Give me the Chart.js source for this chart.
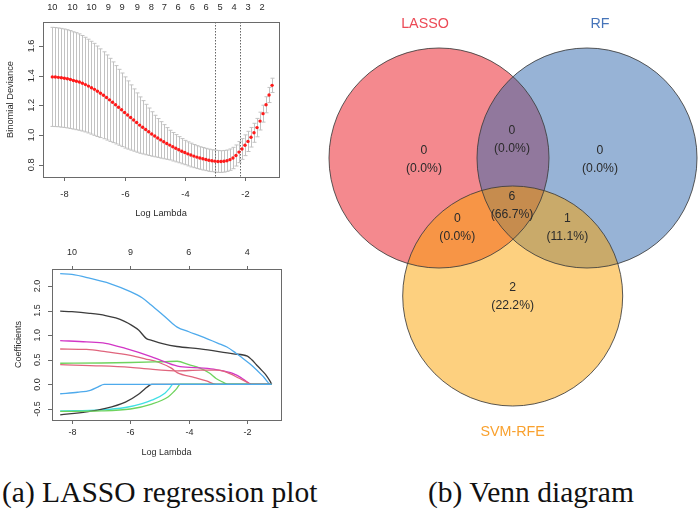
<!DOCTYPE html>
<html>
<head>
<meta charset="utf-8">
<script src="https://cdn.jsdelivr.net/npm/chart.js@4.4.1/dist/chart.umd.min.js"></script>
<style>
  body { margin: 0; background: #fff; width: 699px; height: 512px; position: relative; overflow: hidden; }
  canvas { position: absolute; }
  .cap { position: absolute; font-family: "Liberation Serif", "Times New Roman", serif; font-size: 29.5px; line-height: 29.5px; color: #111; white-space: nowrap; }
</style>
</head>
<body>
<canvas id="cvPlot" width="300" height="222" style="left:0;top:0"></canvas>
<canvas id="coefPlot" width="300" height="225" style="left:0;top:240px"></canvas>
<canvas id="vennPlot" width="399" height="445" style="left:300px;top:0"></canvas>
<div class="cap" style="left:2px;top:478px">(a) LASSO regression plot</div>
<div class="cap" style="left:428px;top:478px">(b) Venn diagram</div>
<script>
// ---- cross validation curve (top left)
const logLambda = [-8.4, -8.3, -8.2, -8.1, -8.0, -7.9, -7.8, -7.7, -7.6, -7.5, -7.4, -7.3, -7.2, -7.1, -7.0,
  -6.9, -6.8, -6.7, -6.6, -6.5, -6.4, -6.3, -6.2, -6.1, -6.0, -5.9, -5.8, -5.7, -5.6, -5.5, -5.4, -5.3, -5.2, -5.1, -5.0,
  -4.9, -4.8, -4.7, -4.6, -4.5, -4.4, -4.3, -4.2, -4.1, -4.0, -3.9, -3.8, -3.7, -3.6, -3.5, -3.4, -3.3, -3.2, -3.1, -3.0,
  -2.9, -2.8, -2.7, -2.6, -2.5, -2.4, -2.3, -2.2, -2.1, -2.0, -1.9, -1.8, -1.7, -1.6, -1.5, -1.4, -1.3, -1.2, -1.1]
const devMean = [1.392, 1.391, 1.389, 1.386, 1.383, 1.379, 1.374, 1.368, 1.363, 1.357, 1.349, 1.340, 1.330, 1.319, 1.308,
  1.295, 1.282, 1.268, 1.253, 1.237, 1.221, 1.204, 1.187, 1.170, 1.152, 1.135, 1.118, 1.101, 1.084, 1.067, 1.052, 1.037, 1.022, 1.007, 0.993,
  0.980, 0.967, 0.955, 0.943, 0.932, 0.921, 0.911, 0.901, 0.891, 0.882, 0.873, 0.865, 0.858, 0.851, 0.845, 0.840, 0.835, 0.830, 0.827, 0.824,
  0.822, 0.821, 0.823, 0.827, 0.834, 0.845, 0.862, 0.885, 0.906, 0.931, 0.957, 0.985, 1.015, 1.050, 1.094, 1.144, 1.204, 1.270, 1.335]
const devSE = [0.334, 0.334, 0.333, 0.333, 0.332, 0.331, 0.330, 0.328, 0.327, 0.325, 0.322, 0.319, 0.316, 0.313, 0.310,
  0.305, 0.299, 0.293, 0.287, 0.280, 0.272, 0.264, 0.256, 0.248, 0.240, 0.230, 0.220, 0.210, 0.200, 0.190, 0.180, 0.170, 0.160, 0.150, 0.140,
  0.131, 0.123, 0.115, 0.107, 0.100, 0.096, 0.092, 0.088, 0.085, 0.082, 0.081, 0.080, 0.078, 0.077, 0.076, 0.076, 0.075, 0.075, 0.074, 0.074,
  0.074, 0.073, 0.073, 0.072, 0.072, 0.072, 0.071, 0.071, 0.070, 0.070, 0.068, 0.066, 0.064, 0.062, 0.060, 0.057, 0.054, 0.051, 0.048]
const lambdaMin = -2.99
const lambda1se = -2.16
const cvCountAt = [-8.40, -7.73, -7.10, -6.54, -6.08, -5.58, -5.11, -4.68, -4.22, -3.75, -3.29, -2.83, -2.36, -1.90, -1.43]
const cvCounts = [10, 10, 10, 9, 9, 9, 8, 7, 6, 6, 6, 5, 4, 3, 2]
const cvYTicks = [0.8, 1.0, 1.2, 1.4, 1.6]
const xTicks = [-8, -6, -4, -2]

// ---- coefficient paths (bottom left), [logLambda, coef]
const coef1 = [[-8.4, 1.49], [-8.0, 1.478], [-7.4, 1.445], [-6.85, 1.40], [-6.5, 1.35], [-6.2, 1.28], [-5.95, 1.20], [-5.72, 1.105],
  [-5.45, 0.93], [-5.27, 0.895], [-4.9, 0.83], [-4.41, 0.77], [-3.62, 0.72], [-2.48, 0.62], [-2.0, 0.575], [-1.85, 0.50],
  [-1.69, 0.40], [-1.5, 0.28], [-1.35, 0.18], [-1.22, 0.06], [-1.17, 0]]
const coef2 = [[-8.4, 0.72], [-7.5, 0.71], [-6.85, 0.665], [-6.0, 0.59], [-5.5, 0.52], [-5.0, 0.44], [-4.6, 0.33], [-4.4, 0.24],
  [-3.8, 0.14], [-3.4, 0.07], [-3.07, 0], [-1.17, 0]]
const coef3 = [[-8.4, 0.43], [-7.0, 0.435], [-6.0, 0.445], [-5.0, 0.46], [-4.4, 0.47], [-4.0, 0.40], [-3.62, 0.33], [-3.3, 0.23],
  [-3.07, 0.12], [-2.85, 0.05], [-2.67, 0], [-1.17, 0]]
const coef4 = [[-8.4, 2.25], [-8.0, 2.235], [-7.4, 2.16], [-6.7, 2.05], [-6.0, 1.885], [-5.6, 1.76], [-5.3, 1.62], [-4.75, 1.34],
  [-4.4, 1.165], [-4.0, 1.07], [-3.6, 0.98], [-3.0, 0.835], [-2.7, 0.76], [-2.4, 0.64], [-2.2, 0.55], [-1.8, 0.36],
  [-1.45, 0.155], [-1.2, 0], [-1.17, 0]]
const coef5 = [[-8.4, -0.54], [-7.0, -0.52], [-6.17, -0.47], [-5.6, -0.39], [-5.27, -0.32], [-4.82, -0.18], [-4.65, -0.07],
  [-4.55, 0], [-1.17, 0]]
const coef6 = [[-8.4, 0.89], [-7.5, 0.865], [-6.85, 0.835], [-6.17, 0.73], [-5.27, 0.56], [-4.5, 0.39], [-4.3, 0.36], [-3.5, 0.33],
  [-3.07, 0.30], [-2.48, 0.22], [-2.2, 0.13], [-2.03, 0.06], [-1.86, 0], [-1.17, 0]]
const coef7 = [[-8.4, -0.62], [-7.5, -0.56], [-6.85, -0.49], [-6.17, -0.36], [-5.72, -0.20], [-5.5, -0.09], [-5.35, -0.02],
  [-5.27, 0], [-1.17, 0]]
const coef8 = [[-8.4, 0.40], [-7.0, 0.375], [-6.0, 0.345], [-5.3, 0.31], [-4.8, 0.285], [-4.4, 0.275], [-3.6, 0.29], [-3.0, 0.29],
  [-2.6, 0.22], [-2.3, 0.13], [-2.0, 0.04], [-1.9, 0], [-1.17, 0]]
const coef9 = [[-8.4, -0.55], [-7.0, -0.54], [-6.0, -0.50], [-5.27, -0.40], [-4.7, -0.25], [-4.5, -0.14], [-4.41, -0.08],
  [-4.3, 0], [-1.17, 0]]
const coef10 = [[-8.4, -0.19], [-7.8, -0.16], [-7.37, -0.12], [-7.1, -0.05], [-6.9, 0], [-1.17, 0]]
const coefCountAt = [-8, -6, -4, -2]
const coefCounts = [10, 9, 6, 4]
const coefYTicks = [-0.5, 0, 0.5, 1.0, 1.5, 2.0]

// ---- venn diagram (right)
const vennSets = ['LASSO', 'RF', 'SVM-RFE']
const vennRegions = ['LASSO', 'LASSO&RF', 'RF', 'all', 'LASSO&SVM-RFE', 'RF&SVM-RFE', 'SVM-RFE']
const vennCounts = [0, 0, 0, 6, 0, 1, 2]

const rPalette = ['#3c3c3c', '#e0657d', '#6fd35e', '#4eaaec', '#3fdfe4', '#d236c6']
const textColor = '#2b2b2b'
const sans = '"Liberation Sans", Arial, sans-serif'

// R style box, ticks and labels drawn off the chart's own scales
function rAxes(o) {
  return {
    id: 'rAxes',
    afterDraw(chart) {
      const { ctx, chartArea: a, scales: { x, y } } = chart
      ctx.save()
      ctx.strokeStyle = '#6a6a6a'
      ctx.lineWidth = 1
      ctx.strokeRect(Math.round(a.left) + 0.5, Math.round(a.top) + 0.5, Math.round(a.right - a.left), Math.round(a.bottom - a.top))
      ctx.fillStyle = textColor
      ctx.font = o.font
      ctx.textAlign = 'center'
      ctx.textBaseline = 'middle'
      ctx.beginPath()
      xTicks.forEach(v => {
        const px = Math.round(x.getPixelForValue(v)) + 0.5
        ctx.moveTo(px, a.bottom)
        ctx.lineTo(px, a.bottom + 4)
        ctx.fillText(String(v), px, a.bottom + o.xLab)
      })
      o.yTicks.forEach(v => {
        const py = Math.round(y.getPixelForValue(v)) + 0.5
        ctx.moveTo(a.left, py)
        ctx.lineTo(a.left - 4, py)
      })
      if (o.topTicks) {
        o.countAt.forEach(v => {
          const px = Math.round(x.getPixelForValue(v)) + 0.5
          ctx.moveTo(px, a.top)
          ctx.lineTo(px, a.top - 3)
        })
      }
      ctx.stroke()
      o.countAt.forEach((v, i) => ctx.fillText(String(o.counts[i]), x.getPixelForValue(v), a.top - o.topLab))
      ctx.fillText('Log Lambda', (a.left + a.right) / 2, a.bottom + o.titleGap)
      o.yTicks.forEach(v => {
        ctx.save()
        ctx.translate(a.left - o.yLab, y.getPixelForValue(v))
        ctx.rotate(-Math.PI / 2)
        ctx.fillText(v.toFixed(1), 0, 0)
        ctx.restore()
      })
      ctx.save()
      ctx.translate(a.left - o.yTitle, (a.top + a.bottom) / 2)
      ctx.rotate(-Math.PI / 2)
      ctx.fillText(o.yTitleText, 0, 0)
      ctx.restore()
      ctx.restore()
    }
  }
}

const errorBars = {
  id: 'errorBars',
  beforeDatasetsDraw(chart) {
    const { ctx, chartArea: a, scales: { x, y } } = chart
    ctx.save()
    ctx.strokeStyle = '#c2c2c2'
    ctx.lineWidth = 1
    ctx.beginPath()
    logLambda.forEach((l, i) => {
      const px = Math.round(x.getPixelForValue(l)) + 0.5
      const top = y.getPixelForValue(devMean[i] + devSE[i])
      const bot = y.getPixelForValue(devMean[i] - devSE[i])
      ctx.moveTo(px, top); ctx.lineTo(px, bot)
      ctx.moveTo(px - 2, top); ctx.lineTo(px + 2, top)
      ctx.moveTo(px - 2, bot); ctx.lineTo(px + 2, bot)
    })
    ctx.stroke()
    ctx.strokeStyle = '#666'
    ctx.setLineDash([1.5, 1.5])
    ctx.beginPath()
    ;[lambdaMin, lambda1se].forEach(l => {
      const px = Math.round(x.getPixelForValue(l)) + 0.5
      ctx.moveTo(px, a.top); ctx.lineTo(px, a.bottom)
    })
    ctx.stroke()
    ctx.restore()
  }
}

new Chart(document.getElementById('cvPlot'), {
  type: 'scatter',
  data: {
    datasets: [{
      data: logLambda.map((l, i) => ({ x: l, y: devMean[i] })),
      pointRadius: 1.7,
      pointBackgroundColor: '#ff1a1a',
      pointBorderWidth: 0
    }]
  },
  options: {
    responsive: false,
    animation: false,
    devicePixelRatio: 1,
    events: [],
    layout: { autoPadding: false, padding: { left: 43, top: 22, right: 21, bottom: 45 } },
    plugins: { legend: { display: false }, tooltip: { enabled: false } },
    scales: {
      x: { type: 'linear', display: false, min: -8.71, max: -0.87 },
      y: { type: 'linear', display: false, min: 0.717, max: 1.762 }
    }
  },
  plugins: [errorBars, rAxes({
    font: '9.3px ' + sans, yTicks: cvYTicks, countAt: cvCountAt, counts: cvCounts, topTicks: false,
    xLab: 17, titleGap: 36, topLab: 15, yLab: 12, yTitle: 33, yTitleText: 'Binomial Deviance'
  })]
})

const coefPaths = [coef1, coef2, coef3, coef4, coef5, coef6, coef7, coef8, coef9, coef10]
new Chart(document.getElementById('coefPlot'), {
  type: 'line',
  data: {
    datasets: coefPaths.map((p, i) => ({
      data: p.map(([x, y]) => ({ x, y })),
      borderColor: rPalette[i % 6],
      borderWidth: 1.3,
      pointRadius: 0,
      cubicInterpolationMode: 'monotone',
      order: coefPaths.length - i
    }))
  },
  options: {
    responsive: false,
    animation: false,
    devicePixelRatio: 1,
    events: [],
    layout: { autoPadding: false, padding: { left: 52, top: 29, right: 19, bottom: 45 } },
    plugins: { legend: { display: false }, tooltip: { enabled: false } },
    scales: {
      x: { type: 'linear', display: false, min: -8.68, max: -0.85 },
      y: { type: 'linear', display: false, min: -0.724, max: 2.346 }
    }
  },
  plugins: [rAxes({
    font: '9px ' + sans, yTicks: coefYTicks, countAt: coefCountAt, counts: coefCounts, topTicks: true,
    xLab: 13, titleGap: 33, topLab: 16, yLab: 14, yTitle: 33, yTitleText: 'Coefficients'
  })]
})

// venn layout in chart units (10 px per unit, the chart area is the whole canvas)
const vennXMax = 39.9
const vennYMax = 44.5
const vennRadius = 11.0
const vennCenters = [{ x: 13.9, y: 15.8 }, { x: 28.7, y: 15.8 }, { x: 21.27, y: 29.6 }]
const vennFill = ['rgba(233,20,30,0.5)', 'rgba(47,103,173,0.5)', 'rgba(251,161,0,0.5)']
const vennNameColor = ['#ec4a56', '#4674b9', '#f9a12e']
const vennNameSpot = [[12.5, 2.4], [30.0, 2.4], [21.27, 43.17]]
const regionSpot = [[12.4, 15.97], [21.2, 13.97], [30.0, 15.97], [21.2, 20.55], [15.73, 22.8], [26.73, 22.8], [21.27, 29.63]]

const vennText = {
  id: 'vennText',
  afterDatasetsDraw(chart) {
    const { ctx, scales: { x, y } } = chart
    const meta = chart.getDatasetMeta(0)
    const rPx = x.getPixelForValue(vennRadius) - x.getPixelForValue(0)
    ctx.save()
    ctx.strokeStyle = 'rgba(60,60,60,0.85)'
    ctx.lineWidth = 1
    meta.data.forEach(el => {
      ctx.beginPath()
      ctx.arc(el.x, el.y, rPx, 0, Math.PI * 2)
      ctx.stroke()
    })
    ctx.textAlign = 'center'
    ctx.textBaseline = 'middle'
    ctx.font = '14.3px ' + sans
    vennSets.forEach((s, i) => {
      ctx.fillStyle = vennNameColor[i]
      ctx.fillText(s, x.getPixelForValue(vennNameSpot[i][0]), y.getPixelForValue(vennNameSpot[i][1]))
    })
    const total = vennCounts.reduce((s, v) => s + v, 0)
    ctx.font = '12.2px ' + sans
    ctx.fillStyle = textColor
    vennCounts.forEach((n, i) => {
      const px = x.getPixelForValue(regionSpot[i][0])
      const py = y.getPixelForValue(regionSpot[i][1])
      ctx.fillText(String(n), px, py - 9)
      ctx.fillText('(' + (100 * n / total).toFixed(1) + '%)', px, py + 9)
    })
    ctx.restore()
  }
}

new Chart(document.getElementById('vennPlot'), {
  type: 'bubble',
  data: {
    labels: vennSets,
    datasets: [{
      data: vennCenters,
      backgroundColor: vennFill,
      borderWidth: 0,
      clip: false,
      // set radius in axis units, turned into pixels from the chart width
      radius: ctx => ctx.chart.width * vennRadius / vennXMax
    }]
  },
  options: {
    responsive: false,
    animation: false,
    devicePixelRatio: 1,
    events: [],
    layout: { autoPadding: false, padding: 0 },
    plugins: { legend: { display: false }, tooltip: { enabled: false } },
    scales: {
      x: { type: 'linear', display: false, min: 0, max: vennXMax },
      y: { type: 'linear', display: false, min: 0, max: vennYMax, reverse: true }
    }
  },
  plugins: [vennText]
})
</script>
</body>
</html>
